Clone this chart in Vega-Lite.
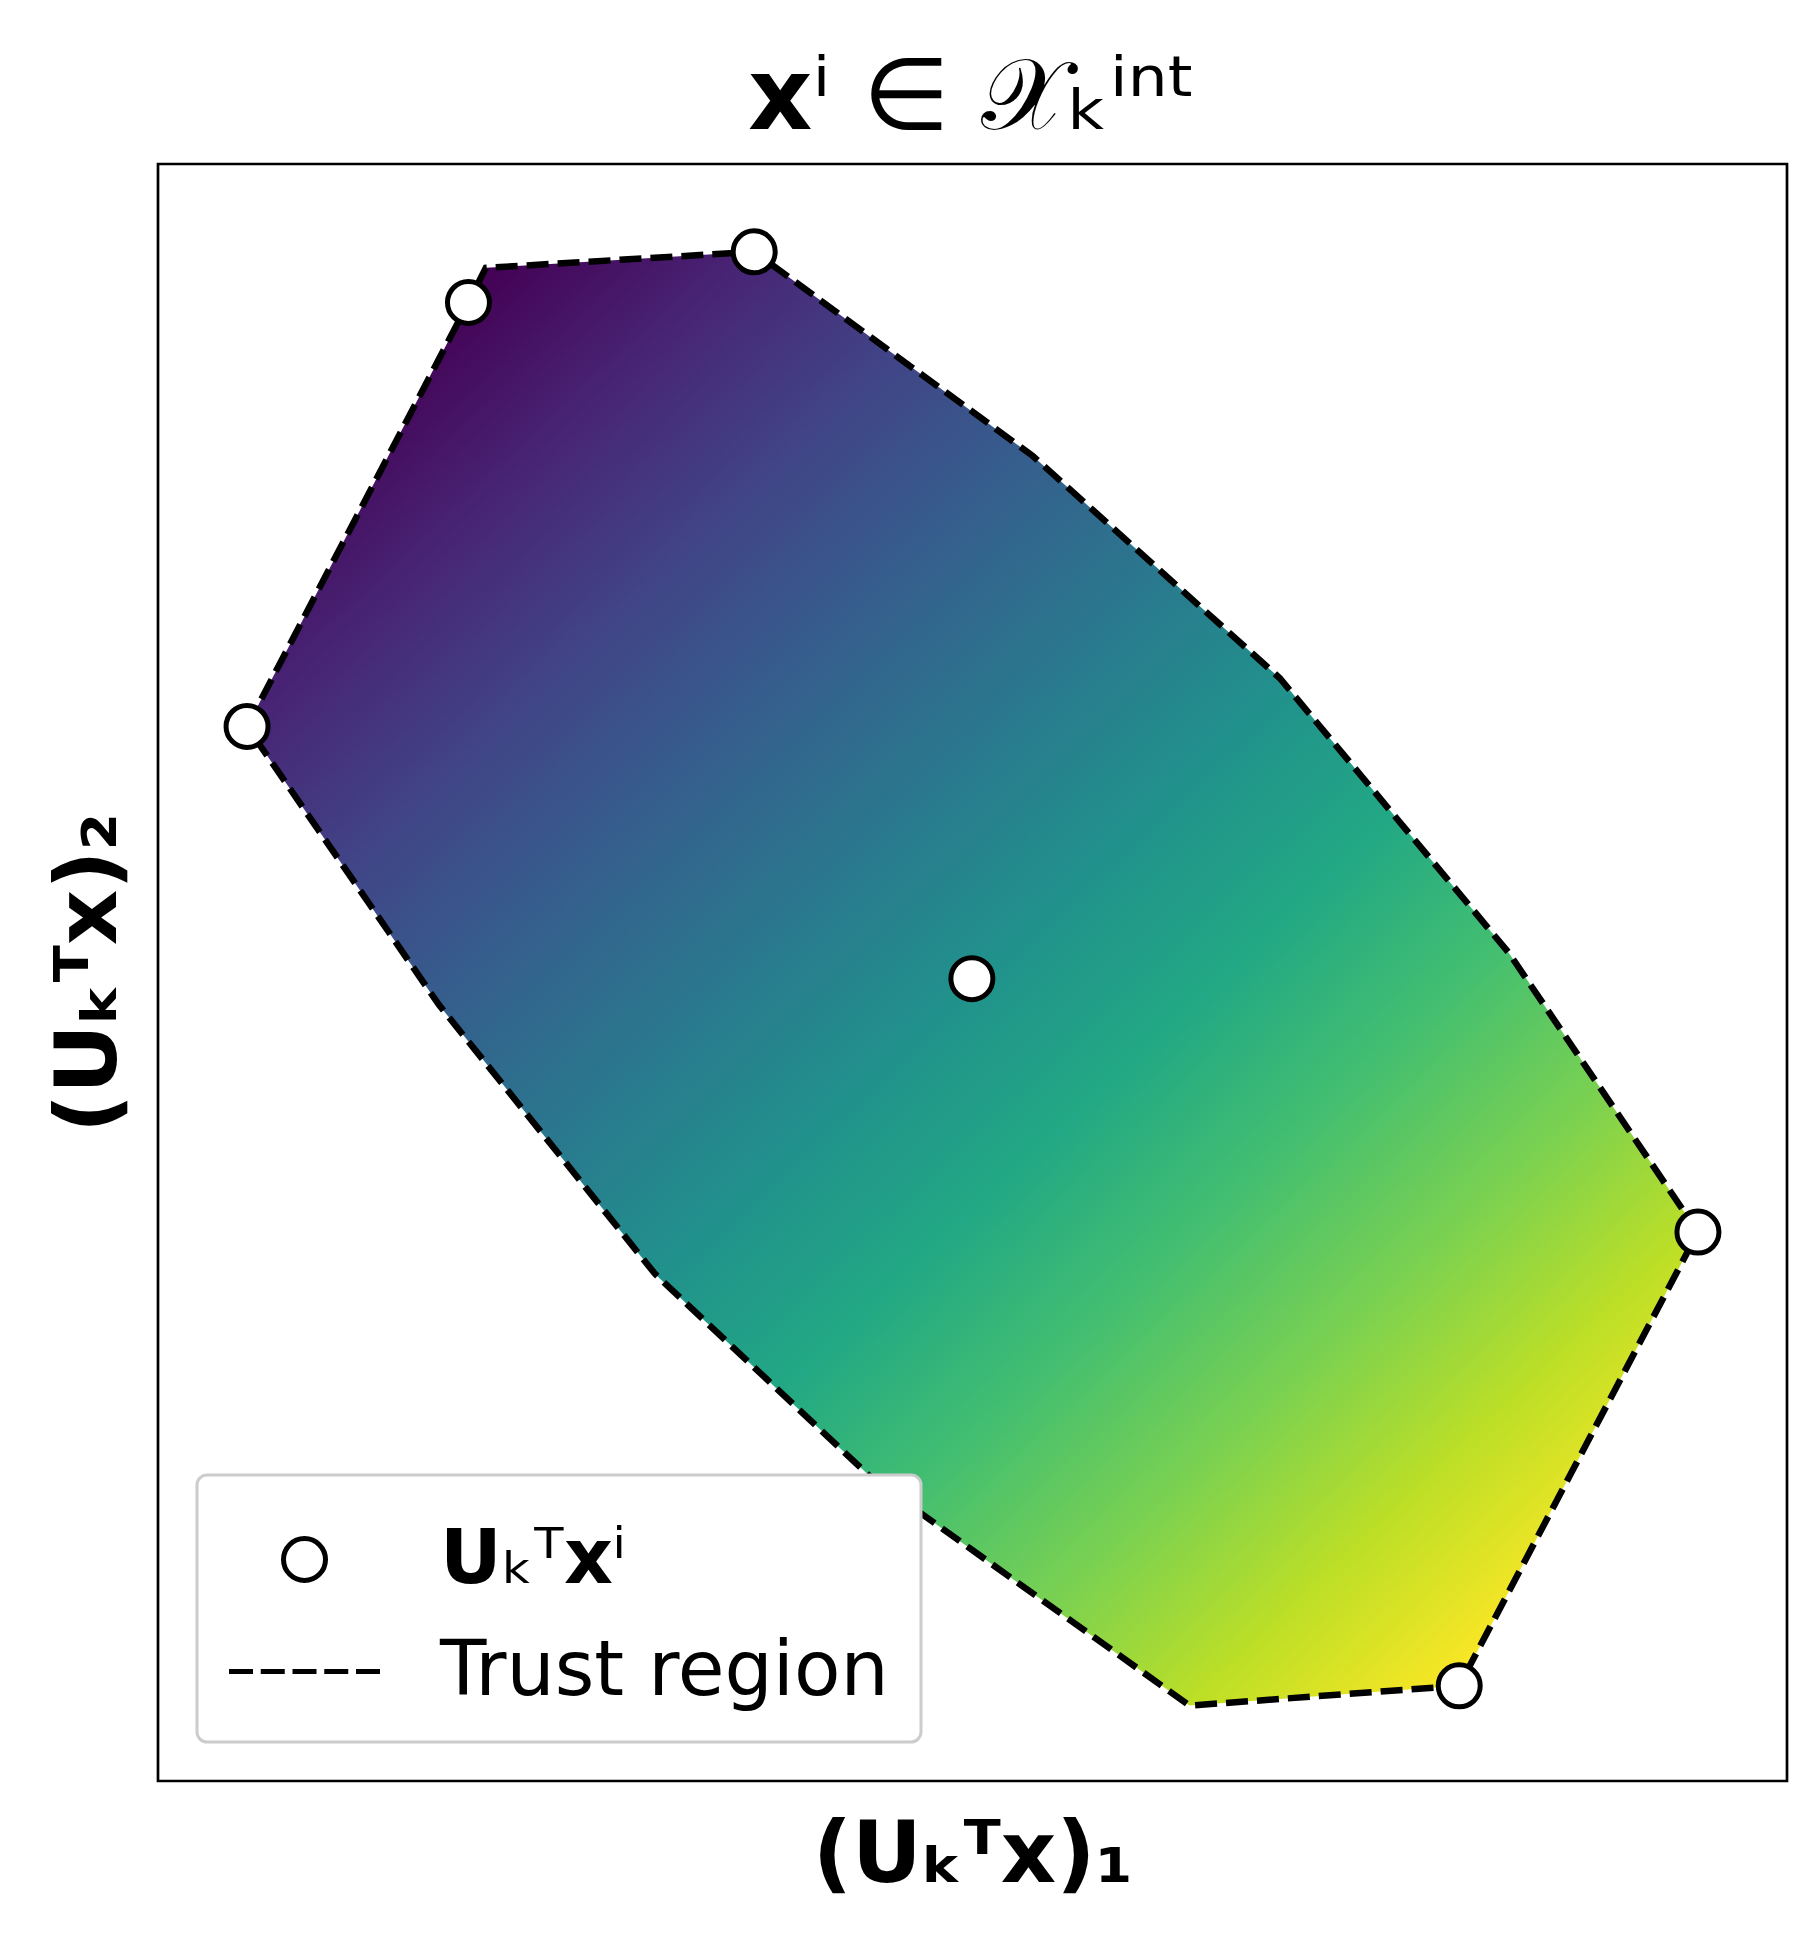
{
  "$schema": "https://vega.github.io/schema/vega-lite/v6.json",
  "width": 1629,
  "height": 1617,
  "autosize": {"type": "none"},
  "padding": {"left": 158, "top": 164, "right": 29, "bottom": 159},
  "background": "white",
  "config": {
    "view": {"stroke": "black", "strokeWidth": 2.7},
    "font": "DejaVu Sans",
    "axis": {"domain": false, "ticks": false, "labels": false, "grid": false, "titleFont": "DejaVu Sans", "titleFontSize": 86, "titleFontWeight": "bold", "titleColor": "black"},
    "legend": {"strokeWidth": 3}
  },
  "title": {"text": "𝘅ⁱ ∈ 𝒳ₖⁱⁿᵗ", "font": "DejaVu Sans", "fontSize": 100, "fontWeight": "normal", "color": "black", "anchor": "middle", "baseline": "alphabetic", "offset": -65},
  "datasets": {
    "fill": [
      {"x": 72, "yt": 853, "yb": 853},
      {"x": 227, "yt": 1150, "yb": 628},
      {"x": 251, "yt": 1196, "yb": 598.1},
      {"x": 265, "yt": 1224, "yb": 580.7},
      {"x": 402, "yt": 1232.2, "yb": 410},
      {"x": 482, "yt": 1237, "yb": 334.6},
      {"x": 577, "yt": 1167.3, "yb": 245},
      {"x": 707, "yt": 1072, "yb": 151.9},
      {"x": 834, "yt": 957.7, "yb": 61},
      {"x": 907, "yt": 892, "yb": 66.4},
      {"x": 1052, "yt": 718, "yb": 77},
      {"x": 1092, "yt": 670, "yb": 153.1},
      {"x": 1245, "yt": 444, "yb": 444}
    ],
    "outline": [
      {"o": 0, "x": 72, "y": 853},
      {"o": 1, "x": 251, "y": 1196},
      {"o": 2, "x": 265, "y": 1224},
      {"o": 3, "x": 482, "y": 1237},
      {"o": 4, "x": 707, "y": 1072},
      {"o": 5, "x": 907, "y": 892},
      {"o": 6, "x": 1092, "y": 670},
      {"o": 7, "x": 1245, "y": 444},
      {"o": 8, "x": 1052, "y": 77},
      {"o": 9, "x": 834, "y": 61},
      {"o": 10, "x": 577, "y": 245},
      {"o": 11, "x": 402, "y": 410},
      {"o": 12, "x": 227, "y": 628},
      {"o": 13, "x": 72, "y": 853}
    ],
    "pts": [
      {"x": 251, "y": 1196, "series": "𝗨ₖᵀ𝘅ⁱ"},
      {"x": 482, "y": 1237, "series": "𝗨ₖᵀ𝘅ⁱ"},
      {"x": 72, "y": 853, "series": "𝗨ₖᵀ𝘅ⁱ"},
      {"x": 658, "y": 649, "series": "𝗨ₖᵀ𝘅ⁱ"},
      {"x": 1245, "y": 444, "series": "𝗨ₖᵀ𝘅ⁱ"},
      {"x": 1052, "y": 77, "series": "𝗨ₖᵀ𝘅ⁱ"}
    ]
  },
  "layer": [
    {
      "data": {"name": "fill"},
      "mark": {
        "type": "area",
        "orient": "vertical",
        "stroke": null,
        "fill": {
          "gradient": "linear",
          "x1": 0.1645, "y1": 0.011, "x2": 0.966, "y2": 0.865,
          "stops": [
            {"offset": 0.0, "color": "#440154"},
            {"offset": 0.1, "color": "#482475"},
            {"offset": 0.2, "color": "#414487"},
            {"offset": 0.3, "color": "#355f8d"},
            {"offset": 0.4, "color": "#2a788e"},
            {"offset": 0.5, "color": "#21918c"},
            {"offset": 0.6, "color": "#22a884"},
            {"offset": 0.7, "color": "#44bf70"},
            {"offset": 0.8, "color": "#7ad151"},
            {"offset": 0.9, "color": "#bddf26"},
            {"offset": 1.0, "color": "#fde725"}
          ]
        }
      },
      "encoding": {
        "x": {"field": "x", "type": "quantitative", "scale": {"domain": [0, 1317], "nice": false, "zero": false}, "axis": {"title": "(Uₖᵀx)₁", "titleBaseline": "alphabetic", "titlePadding": 100}},
        "y": {"field": "yt", "type": "quantitative", "scale": {"domain": [0, 1308], "nice": false, "zero": false}, "axis": {"title": "(Uₖᵀx)₂", "titleBaseline": "alphabetic", "titlePadding": 43}},
        "y2": {"field": "yb"}
      }
    },
    {
      "data": {"name": "outline"},
      "mark": {"type": "line", "color": "black", "strokeWidth": 6.5, "strokeDash": [22, 9]},
      "encoding": {
        "x": {"field": "x", "type": "quantitative", "title": "(Uₖᵀx)₁"},
        "y": {"field": "y", "type": "quantitative", "title": "(Uₖᵀx)₂"},
        "order": {"field": "o", "type": "quantitative"}
      }
    },
    {
      "data": {"name": "pts"},
      "mark": {"type": "point", "filled": true, "fill": "white", "strokeWidth": 5, "size": 10000, "opacity": 1},
      "encoding": {
        "x": {"field": "x", "type": "quantitative", "title": "(Uₖᵀx)₁"},
        "y": {"field": "y", "type": "quantitative", "title": "(Uₖᵀx)₂"},
        "stroke": {
          "field": "series", "type": "nominal",
          "scale": {"domain": ["𝗨ₖᵀ𝘅ⁱ", "Trust region"], "range": ["black", "black"]},
          "legend": null
        },
        "shape": {
          "field": "series", "type": "nominal",
          "scale": {
            "domain": ["𝗨ₖᵀ𝘅ⁱ", "Trust region"],
            "range": ["M-0.42,0A0.42,0.42,0,1,1,0.42,0A0.42,0.42,0,1,1,-0.42,0Z", "M-1.51,0H-1.03M-0.875,0H-0.395M-0.24,0H0.24M0.395,0H0.875M1.03,0H1.51"]
          },
          "legend": {
            "title": null,
            "orient": "bottom-left",
            "offset": 39,
            "padding": 32,
            "strokeColor": "#cccccc",
            "cornerRadius": 10,
            "fillColor": "white",
            "labelFont": "DejaVu Sans",
            "labelFontSize": 76,
            "labelFontWeight": "normal",
            "labelColor": "black",
            "labelOffset": 83,
            "labelLimit": 1000,
            "symbolSize": 10000,
            "symbolOffset": 23,
            "symbolStrokeColor": "black",
            "symbolFillColor": "white",
            "symbolStrokeWidth": 5,
            "rowPadding": 21
          }
        }
      }
    }
  ]
}
